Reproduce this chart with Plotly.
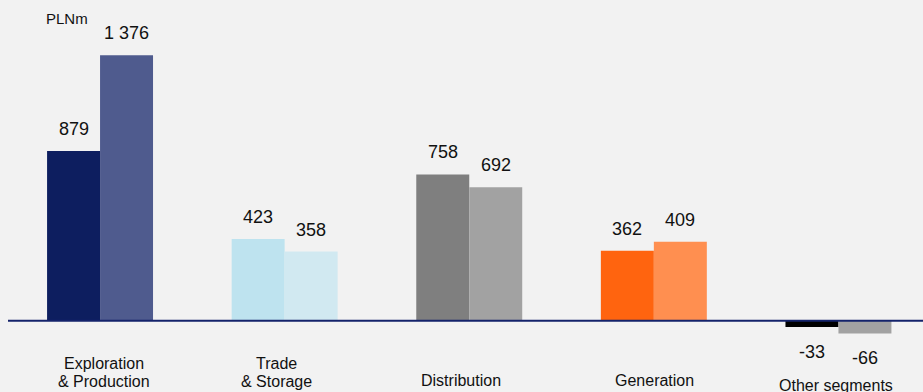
import plotly.graph_objects as go

# Segment data (PLNm)
segments = ["Exploration & Production", "Trade & Storage", "Distribution", "Generation", "Other segments"]
label_lines = [["Exploration", "& Production"], ["Trade", "& Storage"], ["Distribution"], ["Generation"], ["Other segments"]]
values_prev = [879, 423, 758, 362, -33]
values_curr = [1376, 358, 692, 409, -66]
colors_prev = ["#0D1E5F", "#BEE3EF", "#7F7F7F", "#FF640F", "#000000"]
colors_curr = ["#4F5B8E", "#D1E9F1", "#A2A2A2", "#FF8F50", "#A2A2A2"]
value_text_prev = ["879", "423", "758", "362", "-33"]
value_text_curr = ["1 376", "358", "692", "409", "-66"]

W, H = 923, 392
FONT = "Liberation Sans, Arial, sans-serif"

fig = go.Figure()
fig.add_trace(go.Bar(x=segments, y=values_prev, marker=dict(color=colors_prev, line=dict(width=0)),
                     hoverinfo="skip"))
fig.add_trace(go.Bar(x=segments, y=values_curr, marker=dict(color=colors_curr, line=dict(width=0)),
                     hoverinfo="skip"))

annotations = []
# value labels above / below bars
half_bar = 26.5
for seg, vp, vc, tp, tc in zip(segments, values_prev, values_curr, value_text_prev, value_text_curr):
    for v, t, dx in ((vp, tp, -half_bar), (vc, tc, half_bar)):
        annotations.append(dict(x=seg, y=v, xref="x", yref="y", text=t, showarrow=False,
                                xshift=dx, yshift=22 if v >= 0 else -25, yanchor="middle",
                                font=dict(family=FONT, size=18, color="#111111")))

# category labels under the axis (pixel positions of line centres)
label_x = [103.5, 276, 461, 654.5, 836]
label_y = [[363, 381.5], [363, 381.5], [380.5], [380], [385.5]]
for lines, px, pys in zip(label_lines, label_x, label_y):
    for line, py in zip(lines, pys):
        annotations.append(dict(x=px / W, y=1 - py / H, xref="paper", yref="paper", text=line,
                                showarrow=False, xanchor="center", yanchor="middle",
                                font=dict(family=FONT, size=16, color="#111111")))

# unit label
annotations.append(dict(x=66.5 / W, y=1 - 19 / H, xref="paper", yref="paper", text="PLNm",
                        showarrow=False, xanchor="center", yanchor="middle",
                        font=dict(family=FONT, size=15, color="#111111")))

fig.update_layout(
    width=W, height=H,
    margin=dict(l=0, r=0, t=0, b=0),
    paper_bgcolor="#F2F2F2", plot_bgcolor="#F2F2F2",
    barmode="group", bargap=0.426, bargroupgap=0,
    showlegend=False,
    xaxis=dict(range=[-0.542, 4.458], showticklabels=False, showgrid=False, zeroline=False,
               showline=False, ticks=""),
    yaxis=dict(range=[-369.4, 1661.7], showticklabels=False, showgrid=False, zeroline=False,
               showline=False, ticks=""),
    annotations=annotations,
    shapes=[dict(type="line", xref="paper", yref="y", x0=8 / W, x1=1, y0=0, y1=0,
                 line=dict(color="#14236B", width=2))],
)

fig.write_html("out.html", config={"displayModeBar": False})
